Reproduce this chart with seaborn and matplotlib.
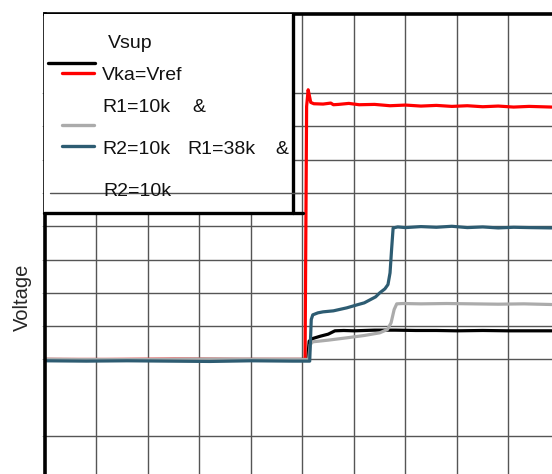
import matplotlib
matplotlib.use("Agg")
import matplotlib.pyplot as plt
from matplotlib.lines import Line2D
from matplotlib.patches import Rectangle
import pandas as pd
import seaborn as sns

vsup_t = [0.0, 1.5, 3.0, 4.5, 5.1, 5.13, 5.2, 5.35, 5.5, 5.63, 5.8, 6.0, 6.4, 6.8,
          7.2, 7.6, 8.0, 8.5, 9.0, 9.5, 9.84]
vsup_v = [0.0, -0.01, 0.0, 0.0, 0.0, 0.55, 0.63, 0.7, 0.76, 0.86, 0.87, 0.86, 0.88,
          0.88, 0.87, 0.87, 0.86, 0.87, 0.86, 0.86, 0.86]

vka_t = [0.0, 1.2, 2.5, 3.8, 5.05, 5.08, 5.11, 5.13, 5.16, 5.22, 5.4, 5.55, 5.6,
         5.7, 5.9, 6.1, 6.4, 6.7, 7.0, 7.3, 7.6, 7.9, 8.2, 8.5, 8.8, 9.1, 9.4, 9.84]
vka_v = [0.0, 0.0, 0.01, 0.0, 0.0, 7.6, 8.1, 7.95, 7.72, 7.68, 7.67, 7.7, 7.65,
         7.66, 7.69, 7.65, 7.66, 7.62, 7.64, 7.61, 7.63, 7.6, 7.62, 7.59, 7.61, 7.58,
         7.6, 7.58]

r10_t = [0.0, 1.5, 3.0, 4.5, 5.12, 5.15, 5.2, 5.5, 5.86, 6.2, 6.5, 6.65, 6.72, 6.78,
         6.83, 6.95, 7.3, 7.8, 8.3, 8.8, 9.3, 9.84]
r10_v = [0.0, 0.0, 0.01, 0.0, 0.0, 0.45, 0.53, 0.58, 0.65, 0.72, 0.8, 0.9, 1.1, 1.5,
         1.67, 1.68, 1.67, 1.68, 1.67, 1.66, 1.67, 1.65]

r38_t = [0.0, 0.8, 1.6, 2.4, 3.2, 4.0, 4.8, 5.14, 5.17, 5.2, 5.3, 5.4, 5.6, 5.86,
         6.06, 6.2, 6.31, 6.42, 6.5, 6.6, 6.66, 6.7, 6.73, 6.76, 6.85, 7.0, 7.3, 7.6,
         7.9, 8.2, 8.5, 8.8, 9.1, 9.4, 9.84]
r38_v = [-0.04, -0.05, -0.04, -0.05, -0.06, -0.04, -0.05, -0.05, 1.2, 1.34, 1.40,
         1.43, 1.46, 1.55, 1.64, 1.70, 1.79, 1.88, 2.0, 2.12, 2.25, 2.6, 3.3, 3.95,
         3.98, 3.96, 3.99, 3.97, 4.0, 3.96, 3.98, 3.95, 3.97, 3.96, 3.95]

series_names = ["Vsup", "Vka=Vref", "R1=10k & R2=10k", "R1=38k & R2=10k"]
colors = ["#000000", "#FF0000", "#ABABAB", "#2D5C72"]

grid_y = [8.0, 7.0, 6.0, 5.0, 4.0, 3.0, 2.0, 1.0, 0.0, -2.3]
grid_x = [1, 2, 3, 4, 5, 6, 7, 8, 9]


def build_frame():
    parts = []
    for name, t, v in zip(series_names,
                          [vsup_t, vka_t, r10_t, r38_t],
                          [vsup_v, vka_v, r10_v, r38_v]):
        parts.append(pd.DataFrame({"t": t, "v": v, "trace": name}))
    return pd.concat(parts, ignore_index=True)


def main():
    sns.set_theme(style="white")
    plt.rcParams["font.family"] = ["Liberation Sans", "DejaVu Sans"]

    W, H = 552, 474
    fig = plt.figure(figsize=(W / 100, H / 100), dpi=100)
    ax = fig.add_axes([45 / W, 0, (W - 45) / W, (H - 14) / H])

    data = build_frame()
    sns.lineplot(data=data, x="t", y="v", hue="trace", hue_order=series_names,
                 palette=colors, sort=False, estimator=None, linewidth=2.3,
                 legend=False, ax=ax, zorder=2)

    ax.set_xlim(0, 9.845)
    ax.set_ylim(-3.44, 10.375)
    ax.set_xticks(grid_x)
    ax.set_yticks(grid_y)
    ax.set_xticklabels([])
    ax.set_yticklabels([])
    ax.set_xlabel("")
    ax.set_ylabel("")
    ax.grid(True, color="#555555", linewidth=1.0)
    ax.set_axisbelow(True)
    ax.tick_params(axis="y", left=True, length=2, width=0.6, color="#999999")
    ax.tick_params(axis="x", bottom=False)
    for side in ["right", "bottom"]:
        ax.spines[side].set_visible(False)
    ax.spines["left"].set_linewidth(2.6)
    ax.spines["top"].set_linewidth(2.6)
    ax.spines["left"].set_color("black")
    ax.spines["top"].set_color("black")

    # legend box, drawn by hand to keep the original's odd layout
    aw, ah = W - 45, H - 14

    def fx(px):
        return (px - 45) / aw

    def fy(py):
        return (H - py) / ah

    ax.add_patch(Rectangle((fx(44), fy(213)), fx(293) - fx(44), 1 - fy(213),
                           transform=ax.transAxes, facecolor="white",
                           edgecolor="none", zorder=3, clip_on=False))
    ax.add_line(Line2D([fx(293), fx(293)], [fy(213), 1.0], transform=ax.transAxes,
                       color="black", linewidth=2.4, zorder=5, clip_on=False))
    ax.add_line(Line2D([fx(44), fx(303)], [fy(213), fy(213)], transform=ax.transAxes,
                       color="black", linewidth=2.4, zorder=5, clip_on=False))
    ax.add_line(Line2D([fx(50), fx(300)], [fy(193), fy(193)], transform=ax.transAxes,
                       color="#555555", linewidth=1.0, zorder=6, clip_on=False))

    handles = [(48, 95, 63), (62, 94, 72.5), (62, 94, 125), (62, 94, 146)]
    for (x0, x1, y), c in zip(handles, colors):
        ax.add_line(Line2D([fx(x0), fx(x1)], [fy(y), fy(y)], transform=ax.transAxes,
                           color=c, linewidth=2.4, zorder=5, clip_on=False))

    labels = [
        ("Vsup", 108, 44),
        ("Vka=Vref", 102, 76),
        ("R1=10k", 102, 108),
        ("&", 192, 108),
        ("R2=10k", 102, 149),
        ("R1=38k", 187, 149),
        ("&", 275, 149),
        ("R2=10k", 103, 192),
    ]
    for txt, px, py in labels:
        fig.text(px / W, 1 - py / H, txt, fontsize=14, ha="left", va="center",
                 color="#111111", zorder=7)

    fig.text(22 / W, 1 - 297 / H, "Voltage", fontsize=14.5, rotation=90,
             ha="center", va="center")

    fig.savefig("out.png", dpi=100)
    plt.close(fig)


if __name__ == "__main__":
    main()
